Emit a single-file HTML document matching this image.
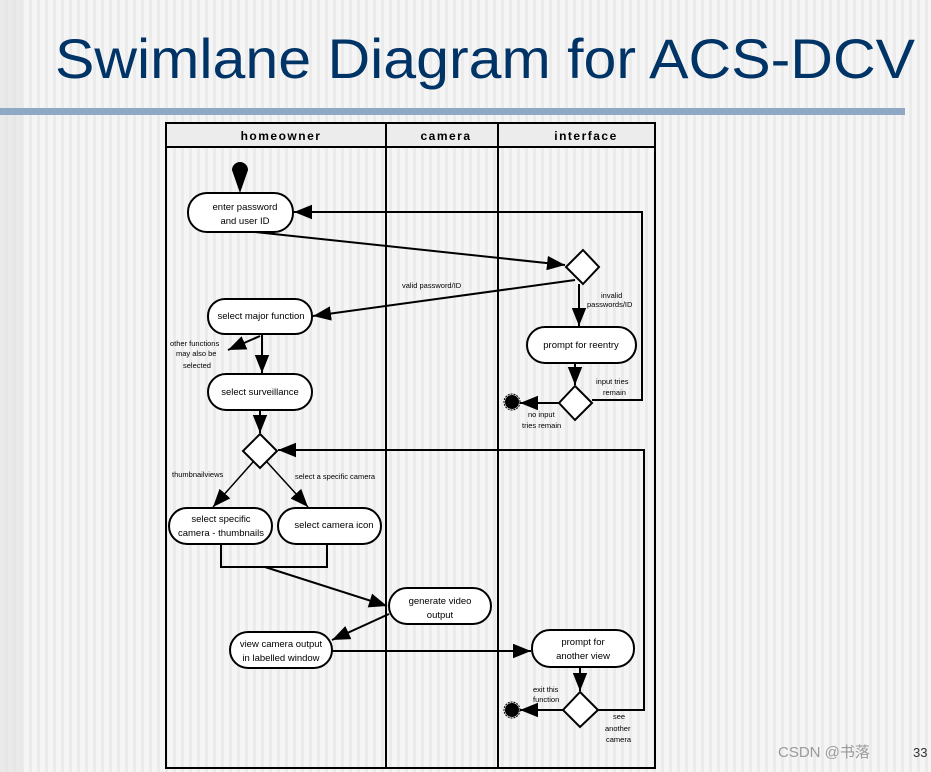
<!DOCTYPE html>
<html><head><meta charset="utf-8"><style>
html,body{margin:0;padding:0}
body{width:931px;height:772px;overflow:hidden;background:repeating-linear-gradient(90deg,#f5f5f5 0 5px,#ebebeb 5px 8px);font-family:"Liberation Sans",sans-serif}
svg{position:absolute;left:0;top:0}
</style></head><body>
<svg width="931" height="772" viewBox="0 0 931 772" xmlns="http://www.w3.org/2000/svg" font-family="Liberation Sans, sans-serif">
<defs>
<marker id="a" viewBox="0 0 10 10" refX="10" refY="5" markerWidth="9" markerHeight="9" orient="auto" markerUnits="userSpaceOnUse"><path d="M0,0 L10,5 L0,10 z" fill="#000"/></marker>
<marker id="b" viewBox="0 0 10 10" refX="10" refY="5" markerWidth="18" markerHeight="18" orient="auto" markerUnits="userSpaceOnUse"><path d="M0,1 L10,5 L0,9 z" fill="#000"/></marker>
</defs>
<rect x="0" y="0" width="22" height="772" fill="#e2e2e2" opacity="0.6"/>
<text x="55" y="78" font-size="56" fill="#003366" textLength="860" lengthAdjust="spacingAndGlyphs">Swimlane Diagram for ACS-DCV</text>
<rect x="0" y="108" width="905" height="7" fill="#8fa8c4"/>
<!-- table -->
<rect x="166" y="123" width="489" height="645" fill="none" stroke="#000" stroke-width="2"/>
<rect x="167" y="124" width="487" height="23" fill="#ececec"/>
<line x1="166" y1="147" x2="655" y2="147" stroke="#000" stroke-width="2"/>
<line x1="386" y1="123" x2="386" y2="768" stroke="#000" stroke-width="2"/>
<line x1="498" y1="123" x2="498" y2="768" stroke="#000" stroke-width="2"/>
<g font-size="12" font-weight="bold" letter-spacing="1.5" text-anchor="middle">
<text x="281" y="140">homeowner</text><text x="446" y="140">camera</text><text x="586" y="140">interface</text></g>
<g fill="none" stroke="#000" stroke-width="2">
<!-- start -->
<path d="M240,190 L233,170 A7,7 0 1 1 247,170 Z" fill="#000"/>
<!-- boxes -->
<rect x="188" y="193" width="105" height="39" rx="19" fill="#fff"/>
<rect x="208" y="299" width="104" height="35" rx="17" fill="#fff"/>
<rect x="208" y="374" width="104" height="36" rx="18" fill="#fff"/>
<rect x="169" y="508" width="103" height="36" rx="18" fill="#fff"/>
<rect x="278" y="508" width="103" height="36" rx="18" fill="#fff"/>
<rect x="389" y="588" width="102" height="36" rx="18" fill="#fff"/>
<rect x="230" y="632" width="102" height="36" rx="18" fill="#fff"/>
<rect x="527" y="327" width="109" height="36" rx="18" fill="#fff"/>
<rect x="532" y="630" width="102" height="37" rx="18" fill="#fff"/>
<!-- diamonds -->
<path d="M583,250 L599,267 L583,284 L566,267 Z" fill="#fff"/>
<path d="M575,386 L592,403 L575,420 L559,403 Z" fill="#fff"/>
<path d="M260,434 L277,451 L260,468 L243,451 Z" fill="#fff"/>
<path d="M580,692 L598,710 L580,727 L563,710 Z" fill="#fff"/>
<!-- connectors -->
<line x1="255" y1="232" x2="565" y2="265" marker-end="url(#b)"/>
<line x1="575" y1="280" x2="313" y2="316" marker-end="url(#b)"/>
<line x1="579" y1="284" x2="579" y2="326" marker-end="url(#b)"/>
<line x1="575" y1="363" x2="575" y2="385" marker-end="url(#b)"/>
<line x1="559" y1="403" x2="520" y2="403" marker-end="url(#b)"/>
<polyline points="592,400 642,400 642,212 294,212" marker-end="url(#b)"/>
<line x1="262" y1="334" x2="262" y2="373" marker-end="url(#b)"/>
<line x1="260" y1="336" x2="228" y2="350" marker-end="url(#b)"/>
<line x1="260" y1="410" x2="260" y2="433" marker-end="url(#b)"/>
<line x1="253" y1="462" x2="213" y2="507" stroke-width="1.5" marker-end="url(#b)"/>
<line x1="267" y1="462" x2="308" y2="507" stroke-width="1.5" marker-end="url(#b)"/>
<polyline points="598,710 644,710 644,450 278,450" marker-end="url(#b)"/>
<polyline points="221,544 221,567 327,567 327,544"/>
<line x1="265" y1="567" x2="387" y2="606" marker-end="url(#b)"/>
<line x1="389" y1="614" x2="332" y2="640" marker-end="url(#b)"/>
<line x1="332" y1="651" x2="531" y2="651" marker-end="url(#b)"/>
<line x1="580" y1="667" x2="580" y2="691" marker-end="url(#b)"/>
<line x1="563" y1="710" x2="520" y2="710" marker-end="url(#b)"/>
</g>
<!-- end nodes -->
<circle cx="512" cy="402" r="7" fill="#000"/><circle cx="512" cy="402" r="8" fill="none" stroke="#000" stroke-width="1" stroke-dasharray="2 1"/>
<circle cx="512" cy="710" r="7" fill="#000"/><circle cx="512" cy="710" r="8" fill="none" stroke="#000" stroke-width="1" stroke-dasharray="2 1"/>
<!-- box text -->
<g font-size="9.5" text-anchor="middle" fill="#000">
<text x="245" y="210">enter password</text><text x="245" y="224">and user ID</text>
<text x="261" y="319">select major function</text>
<text x="260" y="395">select surveillance</text>
<text x="221" y="522">select specific</text><text x="221" y="536">camera - thumbnails</text>
<text x="334" y="528">select camera icon</text>
<text x="440" y="604">generate video</text><text x="440" y="618">output</text>
<text x="281" y="647">view camera output</text><text x="281" y="661">in labelled window</text>
<text x="581" y="348">prompt for reentry</text>
<text x="583" y="645">prompt for</text><text x="583" y="659">another view</text>
</g>
<g font-size="7.5" fill="#000">
<text x="402" y="288">valid password/ID</text>
<text x="601" y="298">invalid</text><text x="587" y="307">passwords/ID</text>
<text x="596" y="384">input tries</text><text x="603" y="395">remain</text>
<text x="528" y="417">no input</text><text x="522" y="428">tries remain</text>
<text x="170" y="346">other functions</text><text x="176" y="356">may also be</text><text x="183" y="368">selected</text>
<text x="172" y="477">thumbnailviews</text>
<text x="295" y="479">select a specific camera</text>
<text x="533" y="692">exit this</text><text x="533" y="702">function</text>
<text x="613" y="719">see</text><text x="605" y="731">another</text><text x="606" y="742">camera</text>
</g>
<text x="778" y="757" font-size="15" fill="#9a9a9a" font-family="Liberation Sans, Noto Sans CJK SC, sans-serif">CSDN @书落</text>
<text x="913" y="757" font-size="13" fill="#333">33</text>
</svg>
</body></html>
